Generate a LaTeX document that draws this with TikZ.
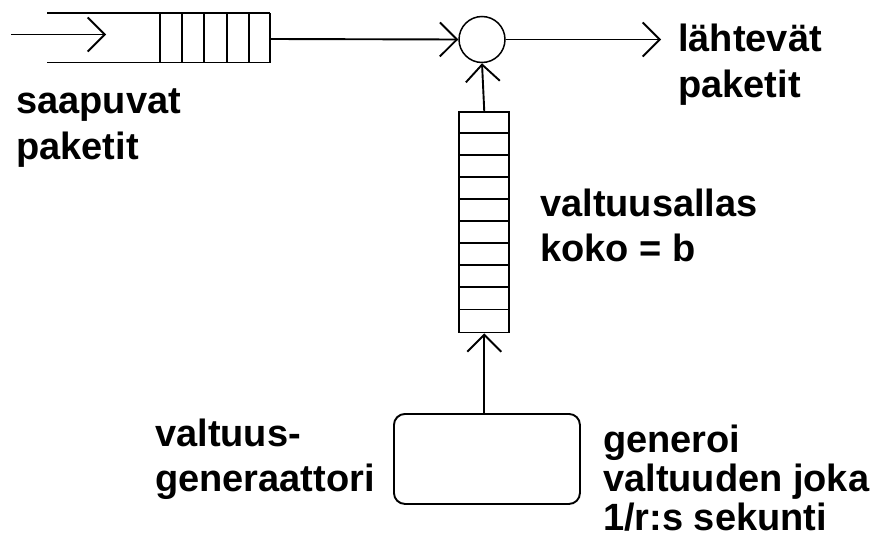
\documentclass[tikz,border=0pt]{standalone}
\usepackage{fontspec}
\setmainfont{Liberation Sans}
\usetikzlibrary{arrows.meta}
\newcommand\txtlines[1]{\vtop{\halign{##\hfil\cr#1\crcr}}}
\begin{document}
\begin{tikzpicture}[x=1pt,y=-1pt,
  ln/.style={line width=1.9pt, line cap=butt},
  barb/.style={-{Straight Barb[length=17pt,width=34pt,line width=1.9pt]}},
  lbl/.style={inner sep=0pt, anchor=base west,
    font=\fontsize{38}{46}\selectfont\bfseries}]
\useasboundingbox (0,0) rectangle (882,554);
% top (input) queue
\coordinate (qin) at (11,34.5);
\coordinate (qtip) at (106,34.5);
\draw[ln] (47,13) -- (270,13);
\draw[ln] (47,62.5) -- (270,62.5);
\foreach \x in {160,182.2,204.4,226.6,248.8,270} \draw[ln] (\x,13) -- (\x,62.5);
\coordinate (qout) at (270,39);
\draw[ln,barb] (qin) -- (qtip);
% merge circle
\node[draw, circle, line width=1.5pt, minimum size=46pt, inner sep=0pt] (c) at (482,39.5) {};
\draw[ln,barb] (qout) -- (c.west);
\coordinate (outend) at (661,39.5);
\draw[ln,barb] (c.east) -- (outend);
% token bucket
\node[draw, line width=1.9pt, minimum width=50pt, minimum height=220.5pt, inner sep=0pt, anchor=north west] (pool) at (458.3,111) {};
\foreach \i in {1,...,9} \draw[ln] (458.3,111+22.05*\i) -- (508.3,111+22.05*\i);
\draw[ln,barb] (pool.north) -- (c.south);
% generator
\node[draw, line width=1.9pt, rounded corners=11pt, minimum width=186pt, minimum height=90pt, inner sep=0pt, anchor=north west] (gen) at (393,413) {};
\draw[ln,barb] (gen.north -| pool.south) -- (pool.south);
% labels
\node[lbl] (tin) at (16,113.3) {\txtlines{saapuvat\cr paketit}};
\node[lbl] (tout) at (678,51.7) {\txtlines{lähtevät\cr paketit}};
\node[lbl, font=\fontsize{38}{45}\selectfont\bfseries] (tpool) at (540,216.7) {\txtlines{valtuusallas\cr koko = b}};
\node[lbl, font=\fontsize{38}{45}\selectfont\bfseries] (tgen) at (155,446.7) {\txtlines{valtuus-\cr generaattori}};
\node[lbl, font=\fontsize{38}{39}\selectfont\bfseries] (trate) at (603,452.7) {\txtlines{generoi\cr valtuuden joka\cr 1/r:s sekunti}};
\end{tikzpicture}
\end{document}
